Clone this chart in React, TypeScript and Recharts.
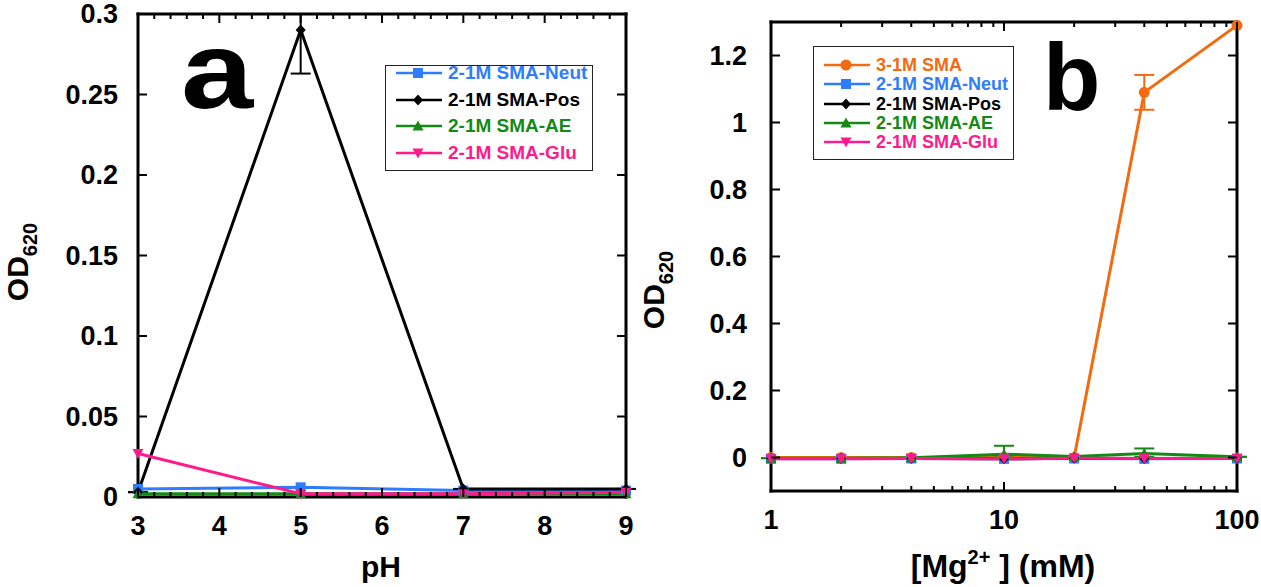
import React from "react";
import { LineChart, Line, XAxis, YAxis, ErrorBar } from "recharts";

const FONT = '"Liberation Sans", Arial, Helvetica, sans-serif';

// ---- panel a: OD620 vs pH ----
const phValues = [3, 5, 7, 9];
const neutA = [0.005, 0.006, 0.004, 0.004];
const posA = [0.003, 0.29, 0.005, 0.005];
const posAErr = [[0, 0], [0.027, 0.01], [0, 0], [0, 0]];
const aeA = [0.002, 0.002, 0.002, 0.002];
const gluA = [0.027, 0.002, 0.002, 0.003];

const phTicks = [
  3, 3.2, 3.4, 3.6, 3.8, 4, 4.2, 4.4, 4.6, 4.8, 5, 5.2, 5.4, 5.6, 5.8, 6,
  6.2, 6.4, 6.6, 6.8, 7, 7.2, 7.4, 7.6, 7.8, 8, 8.2, 8.4, 8.6, 8.8, 9,
];
const phMajor = [3, 4, 5, 6, 7, 8, 9];
const odTicksA = [0, 0.05, 0.1, 0.15, 0.2, 0.25, 0.3];

// ---- panel b: OD620 vs [Mg2+] ----
const mgValues = [1, 2, 4, 10, 20, 40, 100];
const sma3 = [0, 0, 0, 0, 0, 1.09, 1.29];
const sma3Err = [0, 0, 0, 0, 0, 0.052, 0];
const neutB = [-0.004, -0.004, -0.003, -0.004, -0.003, -0.004, -0.003];
const posB = [-0.003, -0.003, -0.003, -0.004, -0.002, -0.003, -0.002];
const aeB = [-0.002, -0.002, -0.001, 0.01, 0.003, 0.012, 0.002];
const aeBErr = [[0, 0], [0, 0], [0, 0], [0.01, 0.025], [0, 0], [0.01, 0.015], [0, 0]];
const gluB = [-0.004, -0.004, -0.003, -0.004, -0.002, -0.003, -0.003];

const mgTicks = [1, 2, 3, 4, 5, 6, 7, 8, 9, 10, 20, 30, 40, 50, 60, 70, 80, 90, 100];
const mgMajor = [1, 10, 100];
const odTicksB = [0, 0.2, 0.4, 0.6, 0.8, 1, 1.2];

const BLUE = "#2f7dff";
const BLACK = "#000000";
const GREEN = "#148a14";
const PINK = "#ff1a8c";
const ORANGE = "#f26b10";

const tableA = phValues.map((ph, i) => ({
  ph,
  neut: neutA[i],
  pos: posA[i],
  posErr: posAErr[i],
  ae: aeA[i],
  glu: gluA[i],
}));

const tableB = mgValues.map((mg, i) => ({
  mg,
  sma3: sma3[i],
  sma3Err: sma3Err[i],
  neut: neutB[i],
  pos: posB[i],
  ae: aeB[i],
  aeErr: aeBErr[i],
  glu: gluB[i],
}));

type Side = "bottom" | "top" | "left" | "right";

const TICK_FONT = 27;

const makeTick =
  (side: Side, majors: number[], showLabel: boolean, gap = 20) =>
  (props: any) => {
    const { x, y, payload, index } = props;
    const v = payload.value as number;
    const major = majors.includes(v);
    const len = major ? 9 : 5;
    let line: React.ReactNode = null;
    let text: React.ReactNode = null;
    const style = { fontFamily: FONT, fontWeight: 700, fontSize: TICK_FONT, fill: "#000" };
    if (side === "bottom") {
      line = <line x1={x} y1={y} x2={x} y2={y - len} stroke="#000" strokeWidth={2} />;
      if (showLabel && major)
        text = (
          <text x={x} y={y + 38} textAnchor="middle" style={style}>
            {String(v)}
          </text>
        );
    } else if (side === "top") {
      line = <line x1={x} y1={y} x2={x} y2={y + len} stroke="#000" strokeWidth={2} />;
    } else if (side === "left") {
      line = <line x1={x} y1={y} x2={x + len} y2={y} stroke="#000" strokeWidth={2} />;
      if (showLabel && major)
        text = (
          <text x={x - gap} y={y + 9} textAnchor="end" style={style}>
            {String(v)}
          </text>
        );
    } else {
      line = <line x1={x} y1={y} x2={x - len} y2={y} stroke="#000" strokeWidth={2} />;
    }
    return (
      <g key={`t-${side}-${index}`}>
        {line}
        {text}
      </g>
    );
  };

const axisLine = { stroke: "#000", strokeWidth: 3, strokeLinecap: "square" as const };

const Square = (color: string) => (p: any) =>
  p.cx == null ? null : (
    <rect key={`s${p.index}`} x={p.cx - 5} y={p.cy - 5} width={10} height={10} fill={color} />
  );
const Diamond = (color: string) => (p: any) =>
  p.cx == null ? null : (
    <path
      key={`d${p.index}`}
      d={`M${p.cx},${p.cy - 5.5} L${p.cx + 5},${p.cy} L${p.cx},${p.cy + 5.5} L${p.cx - 5},${p.cy} Z`}
      fill={color}
    />
  );
const TriUp = (color: string) => (p: any) =>
  p.cx == null ? null : (
    <path
      key={`u${p.index}`}
      d={`M${p.cx},${p.cy - 5.5} L${p.cx + 5.5},${p.cy + 4.5} L${p.cx - 5.5},${p.cy + 4.5} Z`}
      fill={color}
    />
  );
const TriDown = (color: string) => (p: any) =>
  p.cx == null ? null : (
    <path
      key={`v${p.index}`}
      d={`M${p.cx},${p.cy + 5.5} L${p.cx + 5.5},${p.cy - 4.5} L${p.cx - 5.5},${p.cy - 4.5} Z`}
      fill={color}
    />
  );
const Circle = (color: string) => (p: any) =>
  p.cx == null ? null : <circle key={`c${p.index}`} cx={p.cx} cy={p.cy} r={5.5} fill={color} />;

type LegendItem = { label: string; color: string; marker: string };

const legendA: LegendItem[] = [
  { label: "2-1M SMA-Neut", color: BLUE, marker: "square" },
  { label: "2-1M SMA-Pos", color: BLACK, marker: "diamond" },
  { label: "2-1M SMA-AE", color: GREEN, marker: "up" },
  { label: "2-1M SMA-Glu", color: PINK, marker: "down" },
];
const legendB: LegendItem[] = [
  { label: "3-1M SMA", color: ORANGE, marker: "circle" },
  ...legendA,
];

const markerFor = (m: string, color: string) => {
  const p = { cx: 24, cy: 10, index: 0 };
  if (m === "square") return Square(color)(p);
  if (m === "diamond") return Diamond(color)(p);
  if (m === "up") return TriUp(color)(p);
  if (m === "down") return TriDown(color)(p);
  return Circle(color)(p);
};

const LegendBox = ({
  items,
  left,
  top,
  width,
  height,
  rowH,
  fontSize,
  firstRow,
}: {
  items: LegendItem[];
  left: number;
  top: number;
  width: number;
  height: number;
  rowH: number;
  fontSize: number;
  firstRow: number;
}) => (
  <div
    style={{
      position: "absolute",
      left,
      top,
      width,
      height,
      boxSizing: "border-box",
      border: "1.5px solid #222",
      background: "#fff",
    }}
  >
    {items.map((it, i) => (
      <div
        key={it.label}
        style={{
          position: "absolute",
          left: 8,
          top: firstRow + i * rowH - 10,
          display: "flex",
          alignItems: "center",
          height: 20,
        }}
      >
        <svg width={52} height={20} style={{ flex: "none" }}>
          <line x1={2} y1={10} x2={48} y2={10} stroke={it.color} strokeWidth={2.5} />
          {markerFor(it.marker, it.color)}
        </svg>
        <span
          style={{
            color: it.color,
            fontFamily: FONT,
            fontWeight: 700,
            fontSize,
            lineHeight: "20px",
            whiteSpace: "nowrap",
            marginLeft: 2,
          }}
        >
          {it.label}
        </span>
      </div>
    ))}
  </div>
);

export default function App() {
  return (
    <div
      style={{
        position: "absolute",
        left: 0,
        top: 0,
        width: 1261,
        height: 587,
        background: "#fff",
        overflow: "hidden",
      }}
    >
      <div style={{ position: "absolute", left: 0, top: 0 }}>
        <LineChart
          width={640}
          height={587}
          data={tableA}
          margin={{ top: 13, right: 13, bottom: 0, left: 0 }}
        >
          <XAxis
            dataKey="ph"
            type="number"
            domain={[3, 9]}
            ticks={phTicks}
            interval={0}
            tickSize={0}
            tickMargin={0}
            tickLine={false}
            tick={makeTick("bottom", phMajor, true)}
            axisLine={axisLine}
            height={90}
          />
          <XAxis
            xAxisId="top"
            orientation="top"
            dataKey="ph"
            type="number"
            domain={[3, 9]}
            ticks={phTicks}
            interval={0}
            tickSize={0}
            tickMargin={0}
            tickLine={false}
            tick={makeTick("top", phMajor, false)}
            axisLine={axisLine}
            height={1}
          />
          <YAxis
            type="number"
            domain={[0, 0.3]}
            ticks={odTicksA}
            interval={0}
            tickSize={0}
            tickMargin={0}
            tickLine={false}
            tick={makeTick("left", odTicksA, true, 20)}
            axisLine={axisLine}
            width={138}
          />
          <YAxis
            yAxisId="right"
            orientation="right"
            type="number"
            domain={[0, 0.3]}
            ticks={odTicksA}
            interval={0}
            tickSize={0}
            tickMargin={0}
            tickLine={false}
            tick={makeTick("right", odTicksA, false)}
            axisLine={axisLine}
            width={1}
          />
          <Line
            xAxisId="top"
            yAxisId="right"
            dataKey="ae"
            stroke="transparent"
            dot={false}
            activeDot={false}
            isAnimationActive={false}
          />
          <Line
            dataKey="neut"
            stroke={BLUE}
            strokeWidth={3}
            dot={Square(BLUE)}
            activeDot={false}
            isAnimationActive={false}
          />
          <Line
            dataKey="pos"
            stroke={BLACK}
            strokeWidth={3}
            dot={Diamond(BLACK)}
            activeDot={false}
            isAnimationActive={false}
          >
            <ErrorBar dataKey="posErr" direction="y" width={10} stroke={BLACK} strokeWidth={2} />
          </Line>
          <Line
            dataKey="ae"
            stroke={GREEN}
            strokeWidth={3}
            dot={TriUp(GREEN)}
            activeDot={false}
            isAnimationActive={false}
          />
          <Line
            dataKey="glu"
            stroke={PINK}
            strokeWidth={3}
            dot={TriDown(PINK)}
            activeDot={false}
            isAnimationActive={false}
          />
        </LineChart>
      </div>

      <div style={{ position: "absolute", left: 640, top: 0 }}>
        <LineChart
          width={621}
          height={587}
          data={tableB}
          margin={{ top: 21, right: 23, bottom: 0, left: 0 }}
        >
          <XAxis
            dataKey="mg"
            type="number"
            scale="log"
            domain={[1, 100]}
            ticks={mgTicks}
            interval={0}
            tickSize={0}
            tickMargin={0}
            tickLine={false}
            tick={makeTick("bottom", mgMajor, true)}
            axisLine={axisLine}
            height={96}
          />
          <XAxis
            xAxisId="top"
            orientation="top"
            dataKey="mg"
            type="number"
            scale="log"
            domain={[1, 100]}
            ticks={mgTicks}
            interval={0}
            tickSize={0}
            tickMargin={0}
            tickLine={false}
            tick={makeTick("top", mgMajor, false)}
            axisLine={axisLine}
            height={1}
          />
          <YAxis
            type="number"
            domain={[-0.1, 1.3]}
            ticks={odTicksB}
            interval={0}
            tickSize={0}
            tickMargin={0}
            tickLine={false}
            tick={makeTick("left", odTicksB, true, 24)}
            axisLine={axisLine}
            width={131}
          />
          <YAxis
            yAxisId="right"
            orientation="right"
            type="number"
            domain={[-0.1, 1.3]}
            ticks={odTicksB}
            interval={0}
            tickSize={0}
            tickMargin={0}
            tickLine={false}
            tick={makeTick("right", odTicksB, false)}
            axisLine={axisLine}
            width={1}
          />
          <Line
            xAxisId="top"
            yAxisId="right"
            dataKey="ae"
            stroke="transparent"
            dot={false}
            activeDot={false}
            isAnimationActive={false}
          />
          <Line
            dataKey="sma3"
            stroke={ORANGE}
            strokeWidth={3}
            dot={Circle(ORANGE)}
            activeDot={false}
            isAnimationActive={false}
          >
            <ErrorBar dataKey="sma3Err" direction="y" width={10} stroke={ORANGE} strokeWidth={2} />
          </Line>
          <Line
            dataKey="neut"
            stroke={BLUE}
            strokeWidth={3}
            dot={Square(BLUE)}
            activeDot={false}
            isAnimationActive={false}
          />
          <Line
            dataKey="pos"
            stroke={BLACK}
            strokeWidth={3}
            dot={Diamond(BLACK)}
            activeDot={false}
            isAnimationActive={false}
          />
          <Line
            dataKey="ae"
            stroke={GREEN}
            strokeWidth={3}
            dot={TriUp(GREEN)}
            activeDot={false}
            isAnimationActive={false}
          >
            <ErrorBar dataKey="aeErr" direction="y" width={10} stroke={GREEN} strokeWidth={2} />
          </Line>
          <Line
            dataKey="glu"
            stroke={PINK}
            strokeWidth={3}
            dot={TriDown(PINK)}
            activeDot={false}
            isAnimationActive={false}
          />
        </LineChart>
      </div>

      <LegendBox items={legendA} left={385} top={65} width={208} height={106} rowH={26.7} fontSize={19} firstRow={7} />
      <LegendBox items={legendB} left={813} top={46} width={201} height={114} rowH={19.3} fontSize={18} firstRow={18} />

      <svg
        width={1261}
        height={587}
        style={{ position: "absolute", left: 0, top: 0, pointerEvents: "none" }}
      >
        <g style={{ fontFamily: FONT, fontWeight: 700, fill: "#000" }}>
          <text fontSize={110} transform="translate(181 108) scale(1.18 1)">a</text>
          <text x={1043} y={110} fontSize={94}>b</text>
          <text x={381} y={577} fontSize={30} textAnchor="middle">pH</text>
          <text x={1003} y={577} fontSize={32} textAnchor="middle">
            [Mg<tspan dy={-13} fontSize={20}>2+</tspan>
            <tspan dy={13}> ] (mM)</tspan>
          </text>
          <text x={28} y={262} fontSize={30} textAnchor="middle" transform="rotate(-90 28 262)">
            OD<tspan dy={9} fontSize={20}>620</tspan>
          </text>
          <text x={664} y={290} fontSize={30} textAnchor="middle" transform="rotate(-90 664 290)">
            OD<tspan dy={9} fontSize={20}>620</tspan>
          </text>
        </g>
      </svg>
    </div>
  );
}
